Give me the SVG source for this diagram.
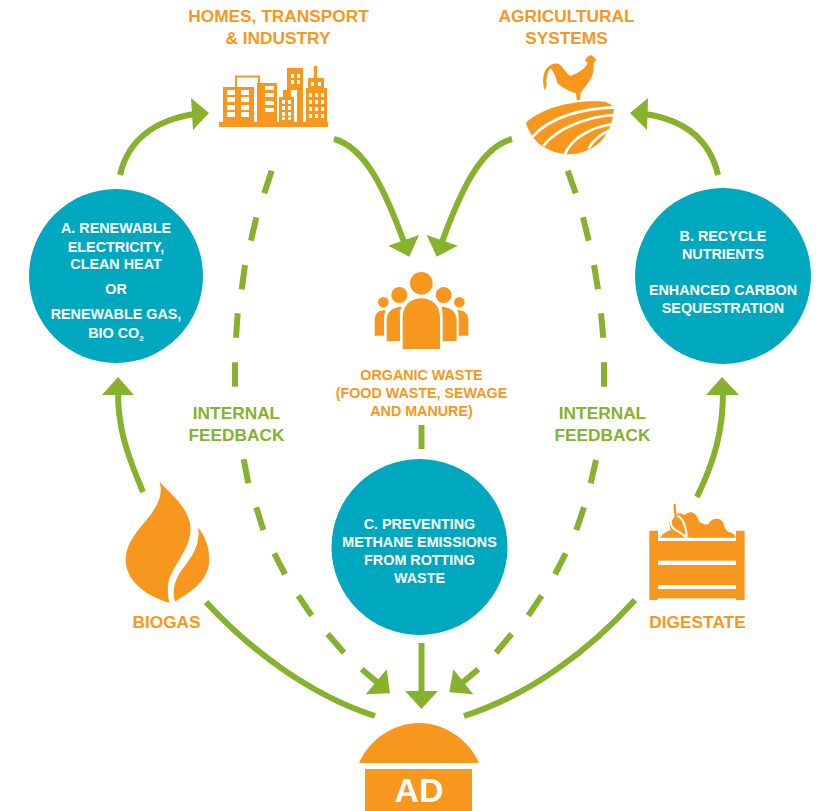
<svg xmlns="http://www.w3.org/2000/svg" width="821" height="811" viewBox="0 0 821 811">
<style>
text{font-family:"Liberation Sans",Arial,sans-serif;font-weight:700;text-anchor:middle}
.o{fill:#F7971D}.w{fill:#fff}.t{fill:#00A8BF}
.ol{font-size:17.300px;fill:#F7971D}.os{font-size:14.300px;fill:#F7971D}
.g{font-size:17.300px;fill:#86B22D}.wt{font-size:14.350px;fill:#fff}
.ln{fill:none;stroke:#86B22D;stroke-width:6}
.h{fill:#86B22D}
</style>
<rect width="821" height="811" fill="#fff"/>
<g id="connectors">
<path class="ln" d="M120,175C128,140 155,120 195,114"/><polygon class="h" points="191,98 209,113 193,130"/>
<path class="ln" d="M718,175C710,140 685,120 645,114"/><polygon class="h" points="648,98 630,113 647,130"/>
<path class="ln" d="M334,139C365,147 385,190 404,242"/><polygon class="h" points="388.300,245.700 419,235 409.300,256.700"/>
<path class="ln" d="M512,139C481,147 461,190 442,242"/><polygon class="h" points="457.700,245.700 426.700,235 436.700,256.700"/>
<path class="ln" d="M143,492C125,450 118,425 118,392"/><polygon class="h" points="102,395 118,377 134,395"/>
<path class="ln" d="M697,497C715,460 723,430 723,392"/><polygon class="h" points="706,395 722,377 739,395"/>
<path class="ln" d="M206,602C250,650 310,695 375,716"/>
<path class="ln" d="M635,600C590,650 530,695 464,716"/>
<path class="ln" d="M421.500,643V695"/><polygon class="h" points="405,691 438,691 421.500,709"/>
<path class="ln" d="M421.500,425V449"/>
<path class="ln" d="M271.700,170.700L264.300,193.300M256.300,217.300L251,240.700M245,265L241.700,289.300M237.700,313.300L236,337.700M235,362.300V386.700"/>
<path class="ln" d="M243.700,459.300L248.300,483.300M256.300,507.300L263.300,530M274.300,553.300L285,574.300M298.300,595.700L311.700,615.700M327.700,634L344,652.700M361.700,669.300L378.300,683.300"/>
<polygon class="h" points="386.700,669.300 365.700,694.300 390,693.300"/>
<path class="ln" d="M567.700,170.700L575.700,193.300M583,217.300L588.700,240.700M594,265L598,289.300M601,313.300L603.300,337.700M604,362.300V386.700"/>
<path class="ln" d="M596,460L590.700,483.300M584,507.300L576.300,530M565.700,553.300L555,574.300M541.700,595.700L528.300,615.700M511.700,634L496,652.700M478.300,669.300L461.700,683.300"/>
<polygon class="h" points="453.300,669.300 473.300,694.300 449.300,692.300"/>
</g>
<g id="homes">
<text class="ol" x="278.500" y="22">HOMES, TRANSPORT</text><text class="ol" x="278" y="44">&amp; INDUSTRY</text>
<g class="o">
<rect x="219" y="122" width="109" height="5"/>
<rect x="223" y="87" width="31" height="35"/>
<path d="M236,87V76.500H259V83" fill="none" stroke="#F7971D" stroke-width="2"/>
<rect x="257" y="83" width="20" height="39"/>
<path d="M279,122V97H283V90H291V97H294V122Z"/>
<path d="M287,68H303V122H297V90H287Z"/>
<path d="M306,122V88H308V78H314V66H317V78H324V88H327V122Z"/>
</g>
<g class="w">
<rect x="227" y="90" width="8" height="5"/><rect x="241" y="90" width="8" height="5"/>
<rect x="227" y="97" width="8" height="5"/><rect x="241" y="97" width="8" height="5"/>
<rect x="227" y="105" width="8" height="5"/><rect x="241" y="105" width="8" height="5"/>
<rect x="227" y="112" width="8" height="5"/><rect x="241" y="112" width="8" height="5"/>
<rect x="265" y="86" width="9" height="4"/><rect x="265" y="93" width="9" height="4"/><rect x="265" y="101" width="9" height="4"/><rect x="265" y="108" width="9" height="4"/>
<rect x="282" y="100" width="3" height="4"/><rect x="288" y="100" width="3" height="4"/><rect x="282" y="106" width="3" height="4"/><rect x="288" y="106" width="3" height="4"/><rect x="282" y="112" width="3" height="4"/><rect x="288" y="112" width="3" height="4"/><rect x="282" y="117" width="3" height="3"/><rect x="288" y="117" width="3" height="3"/>
<rect x="291" y="74" width="3" height="4"/><rect x="297" y="74" width="3" height="4"/><rect x="291" y="80" width="3" height="4"/><rect x="297" y="80" width="3" height="4"/>
<rect x="311" y="82" width="3" height="4"/><rect x="318" y="82" width="3" height="4"/>
<rect x="309" y="93" width="3" height="4"/><rect x="315" y="93" width="3" height="4"/><rect x="321" y="93" width="3" height="4"/>
<rect x="309" y="100" width="3" height="4"/><rect x="315" y="100" width="3" height="4"/><rect x="321" y="100" width="3" height="4"/>
<rect x="309" y="107" width="3" height="4"/><rect x="315" y="107" width="3" height="4"/><rect x="321" y="107" width="3" height="4"/>
<rect x="309" y="114" width="3" height="4"/><rect x="315" y="114" width="3" height="4"/><rect x="321" y="114" width="3" height="4"/>
</g>
</g>
<g id="agri">
<text class="ol" x="566.500" y="22">AGRICULTURAL</text><text class="ol" x="566.500" y="44">SYSTEMS</text>
<path class="o" transform="translate(530,50) scale(.33333)" d="M45,122C36,100 38,70 50,55C62,40 82,36 92,46C105,60 112,75 122,78C138,72 160,60 170,46L172,38L165,32C170,22 176,15 185,16L198,28L196,34L190,42C194,60 186,85 172,102L152,128L150,150H140L138,130C120,125 95,112 82,100C78,82 72,65 62,55C52,65 48,85 50,105Z"/>
<g transform="translate(490,0) scale(.33333)">
<path class="o" d="M108,368C160,320 260,298 345,305Q362,310 372,322C370,380 340,440 280,455C250,468 200,465 160,440C135,425 115,395 108,368Z"/>
<g fill="none" stroke="#fff" stroke-width="8">
<path d="M374,322C280,325 180,350 128,410"/>
<path d="M374,345C290,350 200,385 160,438"/>
<path d="M370,372C310,380 245,410 222,468"/>
<path d="M362,390C335,400 310,420 295,446"/>
</g>
</g>
</g>
<g id="nodeA">
<circle class="t" cx="116" cy="276" r="87"/>
<text class="wt" x="116" y="233">A. RENEWABLE</text><text class="wt" x="116" y="252">ELECTRICITY,</text><text class="wt" x="116" y="269">CLEAN HEAT</text><text class="wt" x="116" y="294">OR</text><text class="wt" x="116" y="319">RENEWABLE GAS,</text><text class="wt" x="116" y="338">BIO CO<tspan font-size="8" dy="3">2</tspan></text>
</g>
<g id="nodeB">
<circle class="t" cx="723" cy="276" r="88"/>
<text class="wt" x="723" y="241">B. RECYCLE</text><text class="wt" x="723" y="259">NUTRIENTS</text><text class="wt" x="723" y="295">ENHANCED CARBON</text><text class="wt" x="723" y="313">SEQUESTRATION</text>
</g>
<g id="nodeC">
<circle class="t" cx="419.500" cy="547" r="88"/>
<text class="wt" x="419.500" y="529">C. PREVENTING</text><text class="wt" x="419.500" y="547">METHANE EMISSIONS</text><text class="wt" x="419.500" y="565">FROM ROTTING</text><text class="wt" x="419.500" y="583">WASTE</text>
</g>
<g id="organic">
<g transform="translate(360,230) scale(.33333)" class="o">
<circle cx="184" cy="160" r="34"/><circle cx="118" cy="195" r="24"/><circle cx="251" cy="195" r="24"/><circle cx="70" cy="217" r="16"/><circle cx="298" cy="217" r="16"/>
<path d="M128,357V262C128,225 155,205 184,205C213,205 240,225 240,262V357Z"/>
<path d="M80,333V270C80,245 100,230 126,230C118,240 120,255 120,270V333Z"/>
<path d="M290,333V270C290,245 270,230 244,230C248,240 248,255 248,270V333Z"/>
<path d="M44,317V270C44,252 55,240 76,240C74,250 72,262 72,270V317Z"/>
<path d="M325,317V270C325,252 314,240 293,240C296,250 296,262 296,270V317Z"/>
</g>
<text class="os" x="421.500" y="380">ORGANIC WASTE</text><text class="os" x="421.500" y="398">(FOOD WASTE, SEWAGE</text><text class="os" x="421.500" y="416">AND MANURE)</text>
</g>
<g id="feedback-left"><text class="g" x="236.500" y="419">INTERNAL</text><text class="g" x="236.500" y="441">FEEDBACK</text></g>
<g id="feedback-right"><text class="g" x="602.500" y="419">INTERNAL</text><text class="g" x="602.500" y="441">FEEDBACK</text></g>
<g id="biogas">
<g transform="translate(110,470) scale(.33333)" class="o">
<path d="M148,33C165,60 225,95 240,160C250,215 210,260 185,310C170,335 172,370 178,398C130,385 45,345 47,265C50,210 100,165 125,130C145,100 160,70 148,33Z"/>
<path d="M265,173C290,205 300,240 297,280C290,340 235,370 195,395C185,360 195,330 215,300C250,255 270,225 265,173Z"/>
</g>
<text class="ol" x="166.500" y="628">BIOGAS</text>
</g>
<g id="digestate">
<g transform="translate(630,490) scale(.33333)">
<g class="o">
<rect x="58" y="122" width="26" height="208" rx="3"/><rect x="318" y="122" width="26" height="208" rx="3"/>
<rect x="84" y="153" width="234" height="59"/><rect x="84" y="225" width="234" height="60"/><rect x="84" y="297" width="234" height="28"/>
<path d="M90,143Q100,128 122,120L118,100Q120,75 150,70L165,75C175,60 200,65 205,90Q215,105 235,103C245,80 280,80 283,110Q290,125 300,127Q312,130 317,143Z"/>
</g>
<path d="M132,78C116,92 120,115 146,125L178,148M134,78C150,72 168,100 170,138" fill="none" stroke="#fff" stroke-width="6"/>
<path d="M135,42C132,55 136,70 138,80" fill="none" stroke="#F7971D" stroke-width="7"/>
</g>
<text class="ol" x="697.500" y="628">DIGESTATE</text>
</g>
<g id="ad">
<path class="o" d="M359,763C370,738 395,723 419,723C443,723 468,738 479,763Z"/>
<rect class="o" x="365" y="769" width="107" height="42"/>
<text x="419" y="802" font-size="34" fill="#fff">AD</text>
</g>
</svg>
